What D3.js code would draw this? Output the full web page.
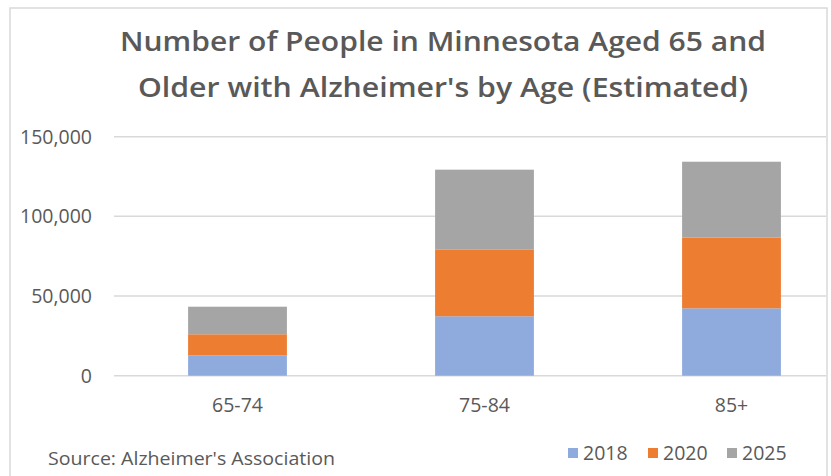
<!DOCTYPE html>
<html>
<head>
<meta charset="utf-8">
<script src="https://cdn.jsdelivr.net/npm/d3@7"></script>
<style>
  html, body { margin: 0; padding: 0; background: #fff; }
  svg { display: block; }
  text { font-family: "Open Sans", "Noto Sans", sans-serif; fill: #595959; }
</style>
</head>
<body>
<svg id="chart" width="831" height="476"></svg>
<script>
// ---- data ----
const categories = ["65-74", "75-84", "85+"];
const seriesNames = ["2018", "2020", "2025"];
const values2018 = [12800, 37300, 42300];
const values2020 = [13200, 42000, 44300];
const values2025 = [17300, 50000, 47700];
const yTicks = [0, 50000, 100000, 150000];
const titleLines = ["Number of People in Minnesota Aged 65 and", "Older with Alzheimer's by Age (Estimated)"];
const sourceText = "Source: Alzheimer's Association";
const colors = ["#8faadc", "#ed7d31", "#a5a5a5"];

// ---- layout ----
const W = 831, H = 476;
const plot = { left: 114, right: 826, top: 136.7, bottom: 375.7 };
const svg = d3.select("#chart");

svg.append("rect").attr("x", 0).attr("y", 0).attr("width", W).attr("height", H).attr("fill", "#fff");
// outer chart border
svg.append("rect")
  .attr("x", 10).attr("y", 8).attr("width", 817).attr("height", H + 10)
  .attr("fill", "none").attr("stroke", "#d9d9d9").attr("stroke-width", 1.5);

const rows = categories.map((c, i) => ({
  cat: c, "2018": values2018[i], "2020": values2020[i], "2025": values2025[i]
}));
const stacked = d3.stack().keys(seriesNames)(rows);

const x = d3.scaleBand().domain(categories).range([114, 855]).paddingInner(0.6).paddingOuter(0.3);
const y = d3.scaleLinear().domain([0, 150000]).range([plot.bottom, plot.top]);

// gridlines
svg.append("g").selectAll("line").data(yTicks).join("line")
  .attr("x1", plot.left).attr("x2", plot.right)
  .attr("y1", d => y(d)).attr("y2", d => y(d))
  .attr("stroke", "#d9d9d9").attr("stroke-width", 1.5);

// y tick labels
svg.append("g").selectAll("text").data(yTicks).join("text")
  .attr("x", 92).attr("y", d => y(d)).attr("dy", "0.357em")
  .attr("text-anchor", "end").attr("font-size", 19.5)
  .text(d => d3.format(",")(d));

// bars
svg.append("g").selectAll("g").data(stacked).join("g")
  .attr("fill", (d, i) => colors[i])
  .selectAll("rect").data(d => d).join("rect")
  .attr("x", d => x(d.data.cat))
  .attr("width", x.bandwidth())
  .attr("y", d => y(d[1]))
  .attr("height", d => y(d[0]) - y(d[1]));

// category labels
svg.append("g").selectAll("text").data(categories).join("text")
  .attr("x", d => x(d) + x.bandwidth() / 2).attr("y", 412)
  .attr("text-anchor", "middle").attr("font-size", 19.5)
  .text(d => d);

// title
const titleWidths = [646, 610];
svg.append("g").selectAll("text").data(titleLines).join("text")
  .attr("x", 443).attr("y", (d, i) => 50.5 + i * 46.5)
  .attr("text-anchor", "middle").attr("font-size", 26.5).attr("font-weight", 600)
  .attr("textLength", (d, i) => titleWidths[i]).attr("lengthAdjust", "spacingAndGlyphs")
  .text(d => d);

// source
svg.append("text").attr("x", 48).attr("y", 465).attr("font-size", 19)
  .attr("textLength", 287).attr("lengthAdjust", "spacingAndGlyphs")
  .text(sourceText);

// legend
const legendX = [568, 648, 727];
const lg = svg.append("g").selectAll("g").data(seriesNames).join("g")
  .attr("transform", (d, i) => `translate(${legendX[i]},0)`);
lg.append("rect").attr("x", 0).attr("y", 448).attr("width", 10).attr("height", 10)
  .attr("fill", (d, i) => colors[i]);
lg.append("text").attr("x", 15).attr("y", 459.7).attr("font-size", 19.5).text(d => d);
</script>
</body>
</html>
